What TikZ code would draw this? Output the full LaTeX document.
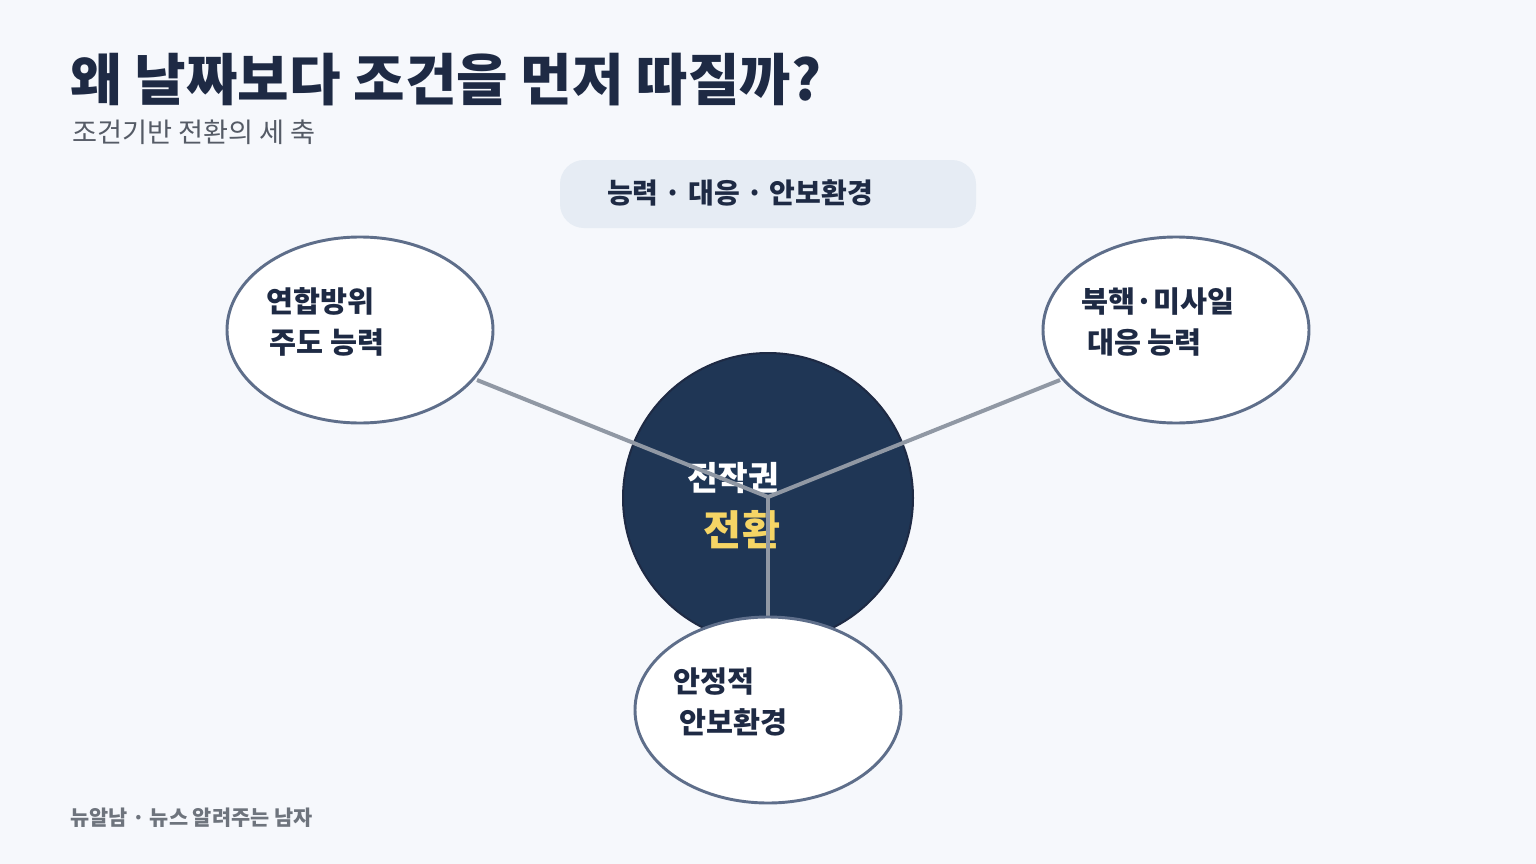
\documentclass[tikz,border=0pt]{standalone}
\usepackage{fontspec}
\setmainfont{Noto Sans CJK KR}
\definecolor{bg}{HTML}{F6F8FC}
\definecolor{navy}{HTML}{1E2A44}
\definecolor{circ}{HTML}{1F3655}
\definecolor{pill}{HTML}{E6ECF4}
\definecolor{edge}{HTML}{5E6E8A}
\definecolor{conn}{HTML}{9098A4}
\definecolor{gold}{HTML}{F5D565}
\definecolor{sub}{HTML}{555B66}
\begin{document}
\begin{tikzpicture}[x=0.75pt,y=-0.75pt,
  bub/.style={ellipse,draw=edge,line width=2.2pt,fill=white,minimum width=266*0.75pt,minimum height=186*0.75pt},
  lab/.style={anchor=west,font=\fontsize{22}{31}\selectfont\bfseries,text=navy,align=left},
  con/.style={draw=conn,line width=3pt}]
\usetikzlibrary{shapes.geometric}
\fill[bg] (0,0) rectangle (1536,864);
\useasboundingbox (0,0) rectangle (1536,864);
\node[anchor=base west,inner sep=0,font=\fontsize{42}{46}\selectfont\bfseries,text=navy] (title) at (70,100) {왜 날짜보다 조건을 먼저 따질까?};
\node[anchor=base west,inner sep=0,font=\fontsize{20.4}{22}\selectfont,text=sub] (subt) at (72,142) {조건기반 전환의 세 축};
\node[fill=pill,rounded corners=18pt,minimum width=416*0.75pt,minimum height=68*0.75pt] (pill) at (768,194) {};
\node[font=\fontsize{21}{24}\selectfont\bfseries,text=navy] (pt) at (740,193) {능력 · 대응 · 안보환경};
\node[circle,fill=circ,draw=navy,line width=1.5pt,minimum size=290*0.75pt] (c) at (768,498) {};
\node[font=\fontsize{25}{28}\selectfont\bfseries,text=white] (t1) at (733,478) {전작권};
\node[font=\fontsize{31}{34}\selectfont\bfseries,text=gold] (t2) at (742,530) {전환};
\coordinate (hub) at (768,497);
\coordinate (pl) at (477,380);
\coordinate (pr) at (1060,380);
\coordinate (pb) at (768,620);
\draw[con] (hub) -- (pl); \draw[con] (hub) -- (pr); \draw[con] (hub) -- (pb);
\node[bub] (L) at (360,330) {};
\node[bub] (R) at (1176,330) {};
\node[bub] (B) at (768,710) {};
\node[lab] (lt) at (262,322) {연합방위\\\hspace{2pt}주도 능력};
\node[lab] (rt) at (1077,322) {북핵·미사일\\\hspace{4pt}대응 능력};
\node[lab] (bt) at (669,702) {안정적\\\hspace{4pt}안보환경};
\node[anchor=base west,inner sep=0,font=\fontsize{15.6}{18}\selectfont\bfseries,text=sub!85] (foot) at (70,825) {뉴알남 · 뉴스 알려주는 남자};
\end{tikzpicture}
\end{document}
